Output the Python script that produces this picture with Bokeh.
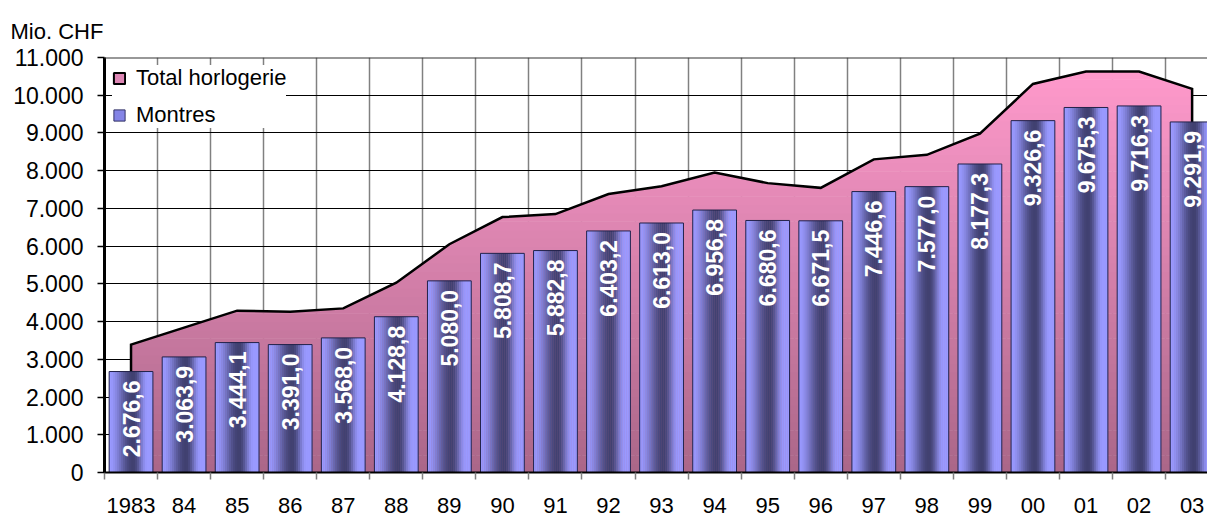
import numpy as np
from bokeh.plotting import figure
from bokeh.models import (Range1d, FixedTicker, Legend, LegendItem, Span, Title,
                          ColumnDataSource)
from bokeh.core.properties import value
from bokeh.embed import file_html
from bokeh.resources import INLINE

# ---------------- data ----------------
years = ["1983", "84", "85", "86", "87", "88", "89", "90", "91", "92", "93",
         "94", "95", "96", "97", "98", "99", "00", "01", "02", "03"]
montres = [2676.6, 3063.9, 3444.1, 3391.0, 3568.0, 4128.8, 5080.0, 5808.7,
           5882.8, 6403.2, 6613.0, 6956.8, 6680.6, 6671.5, 7446.6, 7577.0,
           8177.3, 9326.6, 9675.3, 9716.3, 9291.9]
total_horlogerie = [3390, 3840, 4290, 4260, 4350, 5030, 6050, 6770, 6850,
                    7380, 7590, 7950, 7670, 7545, 8300, 8420, 8980, 10300,
                    10630, 10630, 10170]
y_ticks = [0, 1000, 2000, 3000, 4000, 5000, 6000, 7000, 8000, 9000, 10000, 11000]
y_tick_labels = ["0", "1.000", "2.000", "3.000", "4.000", "5.000", "6.000",
                 "7.000", "8.000", "9.000", "10.000", "11.000"]
unit_label = "Mio. CHF"
series_names = ["Total horlogerie", "Montres"]

FONT = "Liberation Sans"

def fmt(v):
    s = f"{v:,.1f}"
    return s.replace(",", "X").replace(".", ",").replace("X", ".")

def mix(c1, c2, f):
    r = [int(round(a + (b - a) * f)) for a, b in zip(c1, c2)]
    return "#%02x%02x%02x" % tuple(r)

xs = list(range(len(years)))

p = figure(width=1207, height=516, output_backend="svg", toolbar_location=None,
           x_range=Range1d(-0.5, 20.29), y_range=Range1d(0, 11000),
           min_border_left=104, min_border_right=0, min_border_top=57,
           min_border_bottom=44)
p.outline_line_color = None
p.background_fill_color = "white"

p.title = Title(text=unit_label, align="left", offset=-103, standoff=10,
                padding=9,
                text_font=FONT, text_font_size="22px", text_font_style="normal",
                text_color="black")

# grids
p.ygrid.ticker = FixedTicker(ticks=y_ticks)
p.ygrid.grid_line_color = "#000000"
p.ygrid.grid_line_width = 1
p.xgrid.ticker = FixedTicker(ticks=[i + 0.5 for i in xs[:-1]])
p.xgrid.grid_line_color = "#808080"
p.xgrid.grid_line_width = 1.5

# ---------- area (Total horlogerie) with vertical gradient ----------
x_fine = np.linspace(xs[0], xs[-1], 2001)
tot_fine = np.interp(x_fine, xs, total_horlogerie)
bottom_c = (0xAA, 0x66, 0x88)
top_c = (0xFF, 0x9A, 0xCC)
top_v = max(total_horlogerie)
n_bands = 48
edges = np.linspace(0, top_v, n_bands + 1)
for k in range(n_bands):
    lo, hi = edges[k], edges[k + 1]
    col = mix(bottom_c, top_c, (lo + hi) / 2 / top_v)
    y2 = np.clip(tot_fine, lo, min(hi + 15, top_v))
    p.varea(x=x_fine, y1=np.minimum(y2, lo), y2=y2, fill_color=col,
            fill_alpha=1)

p.line(x=[xs[0]] + xs + [xs[-1]], y=[0] + total_horlogerie + [0],
       line_color="black", line_width=2.5, line_join="miter")

# ---------- bars (Montres) with horizontal gradient ----------
bw = 0.825
n_strips = 22
light = (0x99, 0x99, 0xFF)
dark = (0x40, 0x40, 0x70)
sw = bw / n_strips
for k in range(n_strips):
    t = (k + 0.5) / n_strips
    if t < 0.55:
        f = 0.5 - 0.5 * np.cos(np.pi * t / 0.55)
    else:
        u = (t - 0.55) / 0.33
        f = 0.5 + 0.5 * np.cos(np.pi * min(u, 1.0))
    col = mix(light, dark, f)
    off = -bw / 2 + (k + 0.5) * sw
    p.vbar(x=[x + off for x in xs], top=montres, bottom=0, width=sw * 1.15,
           fill_color=col, line_color=None)
p.vbar(x=xs, top=montres, bottom=0, width=bw, fill_alpha=0,
       line_color="#22224a", line_width=1)

# bar labels
p.text(x=xs, y=montres, text=[fmt(v) for v in montres], angle=np.pi / 2,
       text_align="right", text_baseline="middle", y_offset=9,
       text_color="white", text_font=value(FONT), text_font_style="bold",
       text_font_size="23px")

# top border line
p.add_layout(Span(location=11000, dimension="width", line_color="#333333",
                  line_width=2))

# ---------- axes ----------
p.yaxis.ticker = FixedTicker(ticks=y_ticks)
p.yaxis.major_label_overrides = {v: s for v, s in zip(y_ticks, y_tick_labels)}
p.yaxis.minor_tick_line_color = None
p.yaxis.major_tick_in = 0
p.yaxis.major_tick_out = 7
p.yaxis.major_tick_line_color = "black"
p.yaxis.major_tick_line_width = 1.5
p.yaxis.axis_line_color = "black"
p.yaxis.axis_line_width = 3
p.yaxis.major_label_standoff = 14
p.yaxis.major_label_text_font = FONT
p.yaxis.major_label_text_font_size = "23px"
p.yaxis.major_label_text_color = "black"

p.xaxis.ticker = FixedTicker(ticks=xs, minor_ticks=[i - 0.5 for i in xs] + [xs[-1] + 0.5])
p.xaxis.major_label_overrides = {x: y for x, y in zip(xs, years)}
p.xaxis.major_tick_line_color = None
p.xaxis.major_tick_in = 0
p.xaxis.major_tick_out = 0
p.xaxis.minor_tick_in = 0
p.xaxis.minor_tick_out = 7
p.xaxis.minor_tick_line_color = "#808080"
p.xaxis.minor_tick_line_width = 1.5
p.xaxis.axis_line_color = "black"
p.xaxis.axis_line_width = 2
p.xaxis.major_label_standoff = 18
p.xaxis.major_label_text_font = FONT
p.xaxis.major_label_text_font_size = "22px"
p.xaxis.major_label_text_color = "black"

# ---------- legend ----------
nan = float("nan")
src_dummy = ColumnDataSource(dict(l=[nan], r=[nan], t=[nan], b=[nan]))
r_tot = p.quad(left="l", right="r", top="t", bottom="b", source=src_dummy,
               fill_color="#dd86b4", line_color="black", line_width=2)
r_mon = p.quad(left="l", right="r", top="t", bottom="b", source=src_dummy,
               fill_color="#8484e6", line_color="#333366", line_width=1)
legend = Legend(items=[LegendItem(label=series_names[0], renderers=[r_tot]),
                       LegendItem(label=series_names[1], renderers=[r_mon])],
                location="top_left", margin=8, padding=10, spacing=11,
                glyph_width=14, glyph_height=14, label_standoff=10,
                label_text_font=FONT, label_text_font_size="22px",
                label_text_color="black",
                border_line_color=None, background_fill_color="white",
                background_fill_alpha=1)
p.add_layout(legend)

open("out.html", "w").write(file_html(p, INLINE))
